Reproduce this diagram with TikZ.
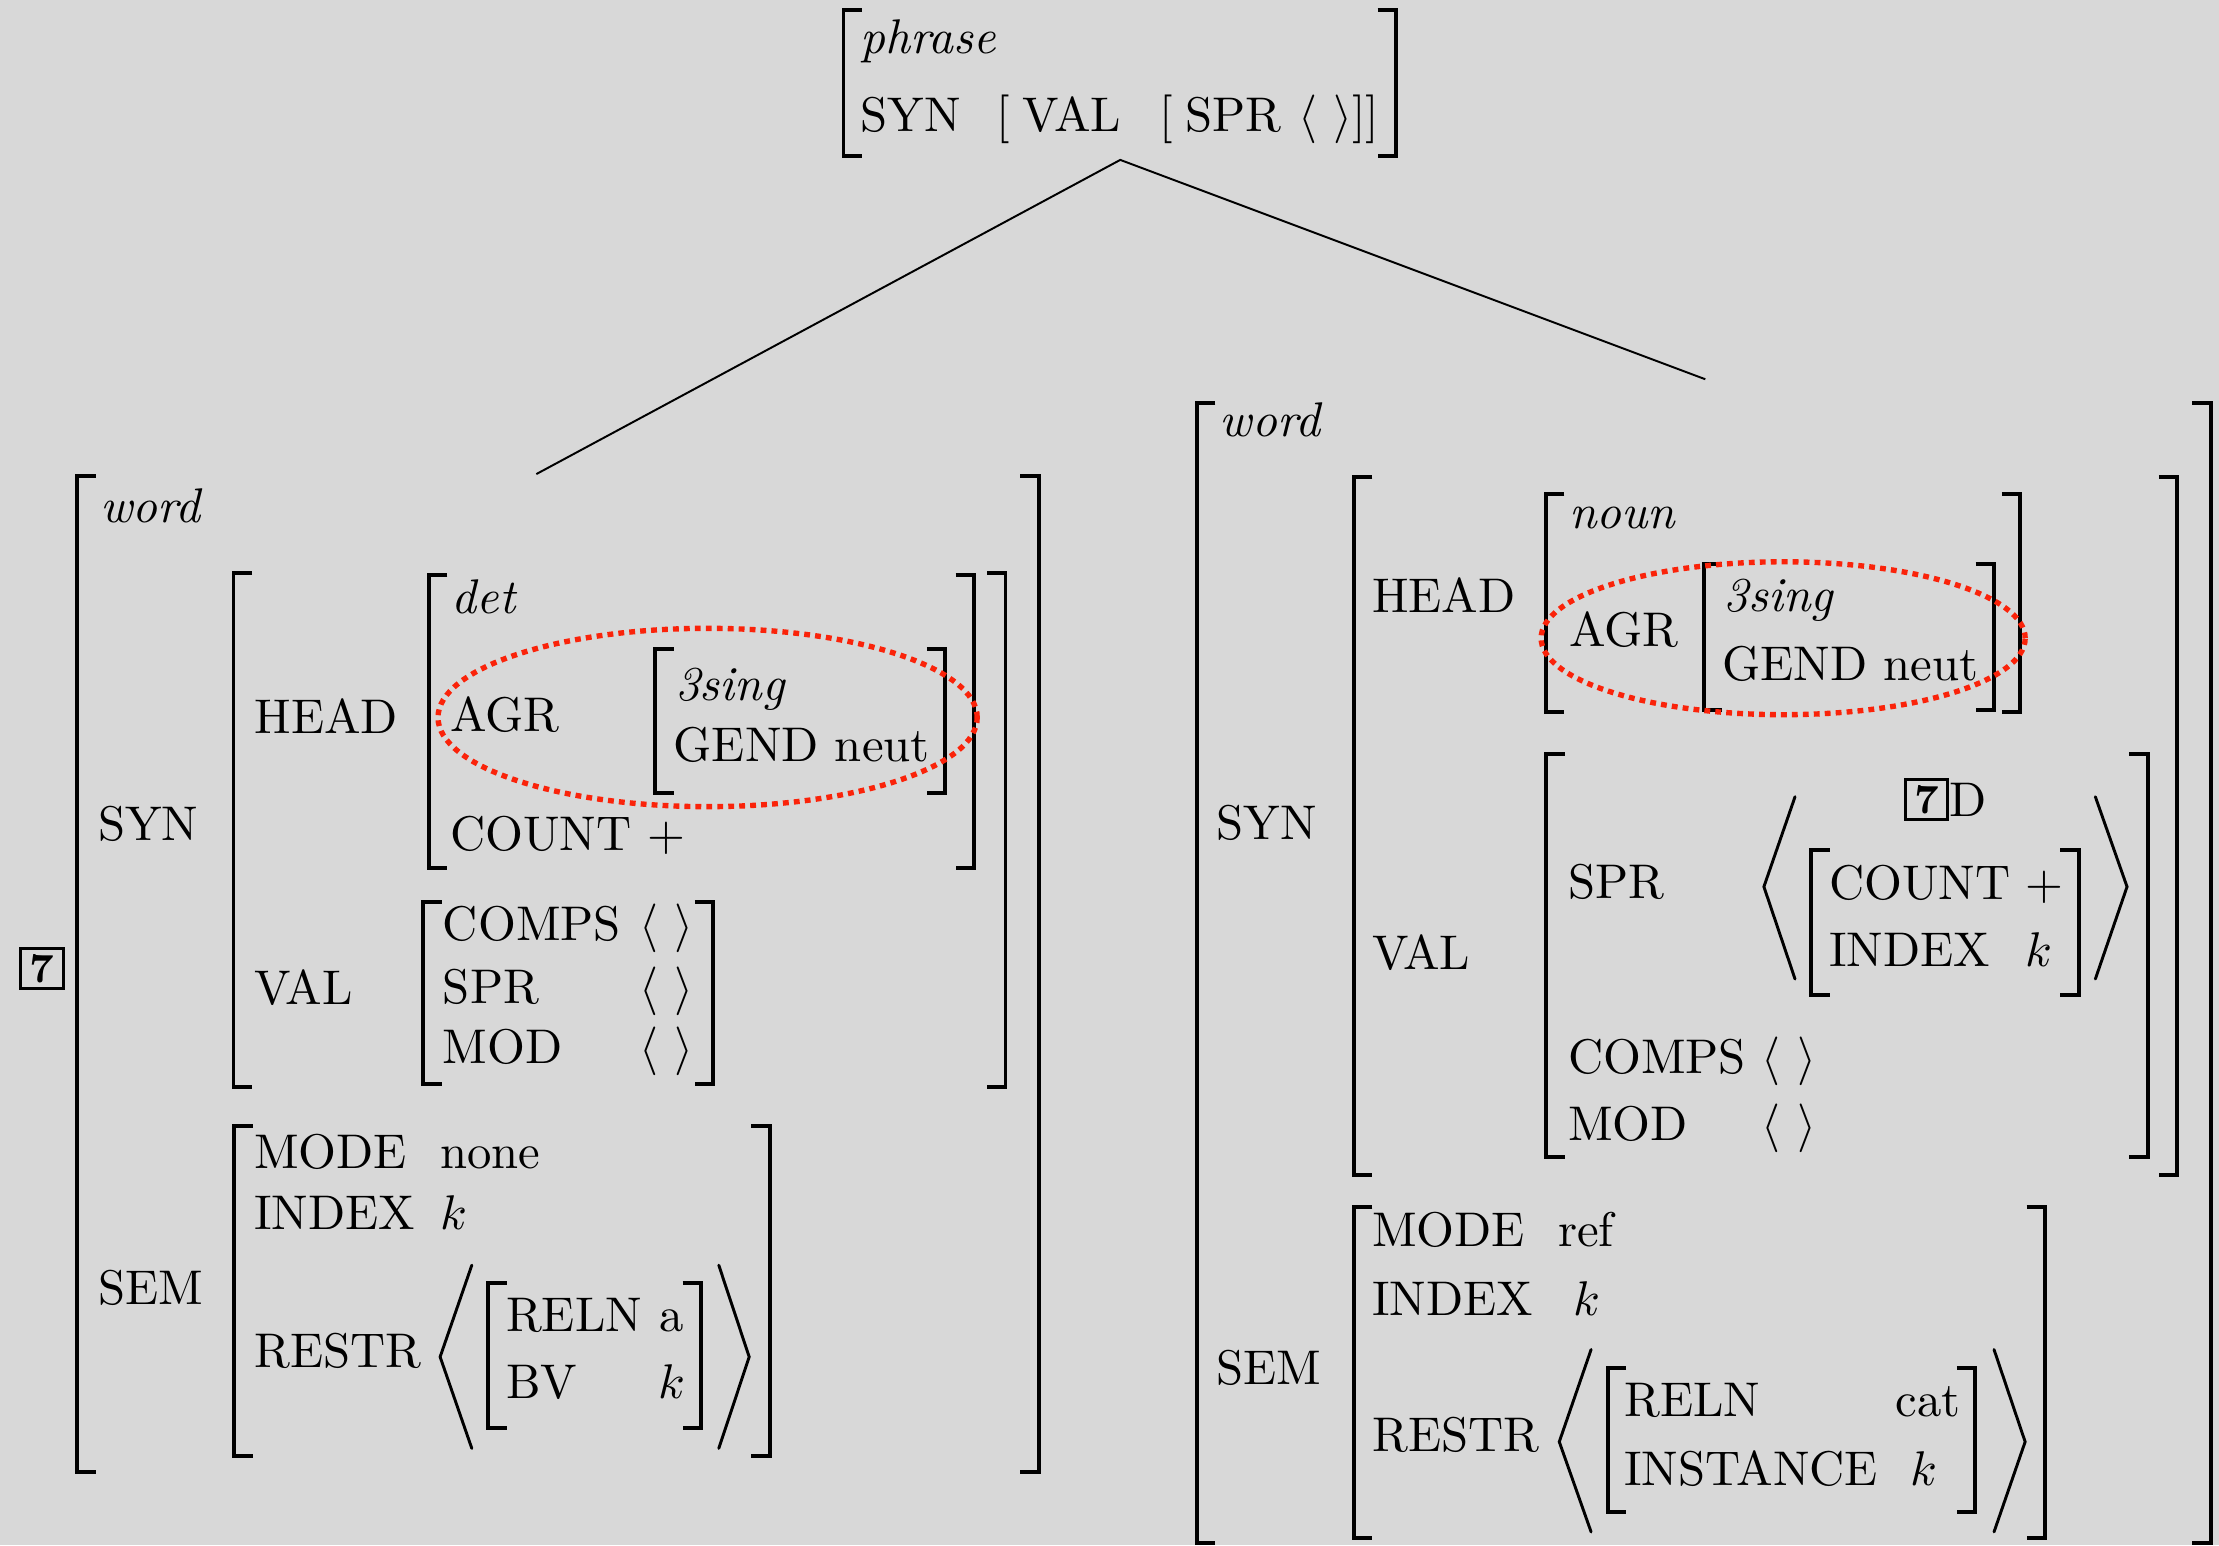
\documentclass[tikz,border=0pt]{standalone}
\usepackage{tikz}
\definecolor{bgc}{RGB}{216,216,216}
\definecolor{redc}{RGB}{250,35,10}
\newcommand\avmL[3]{\draw[brk] ([xshift=3.8pt]#1,#2) -- (#1,#2) -- (#1,#3) -- ([xshift=3.8pt]#1,#3);}
\newcommand\avmR[3]{\draw[brk] ([xshift=-3.8pt]#1,#2) -- (#1,#2) -- (#1,#3) -- ([xshift=-3.8pt]#1,#3);}
\newcommand\emptylist{$\langle\ \rangle$}
\tikzset{
  t/.style={anchor=base west, inner sep=0pt, outer sep=0pt},
  brk/.style={line width=0.8pt, line cap=butt, line join=miter},
  ang/.style={line width=0.6pt, line cap=round, line join=miter},
  tagbox/.style={draw, line width=0.6pt, inner sep=0pt, minimum width=8.7pt, minimum height=8.1pt, font=\fontsize{8.5}{10}\selectfont\bfseries},
  circ/.style={draw=redc, line width=1.1pt, dash pattern=on 1.2pt off 1.05pt},
  tree/.style={line width=0.4pt}
}
\begin{document}
\begin{tikzpicture}[x=0.2906pt, y=-0.2906pt]
\fill[bgc] (0,0) rectangle (1568,1092);
\useasboundingbox (0,0) rectangle (1568,1092);

% ---------- top phrase ----------
\avmL{596}{7}{110}
\avmR{986.6}{7}{110}
\node[t] (ph) at (608,37.7) {\textit{phrase}};
\node[t] (psyn) at (608,93) {SYN};
\node[t] (pval) at (704,93) {[\hspace{2.7pt}VAL};
\node[t] (pspr) at (819,93) {[\hspace{2.7pt}SPR \emptylist]]};

% ---------- tree ----------
\coordinate (apex) at (791.6,113);
\coordinate (lwTop) at (379,335);
\coordinate (rwTop) at (1205,268);
\draw[tree] (lwTop) -- (apex) -- (rwTop);

% ---------- left word ----------
\node[tagbox] (ltag) at (29.7,684.3) {7};
\avmL{54.7}{336.5}{1040}
\avmR{734}{336.5}{1040}
\node[t] (lword) at (70.7,369) {\textit{word}};
\node[t] (lsyn) at (69.5,593.7) {SYN};
\node[t] (lsem) at (69.5,922) {SEM};
% SYN value
\avmL{165}{404.6}{768}
\avmR{710.5}{404.6}{768}
\node[t] (lhead) at (180,518) {HEAD};
\avmL{303}{406.4}{613.5}
\avmR{688.4}{406.4}{613.5}
\node[t] (ldet) at (319.3,433.4) {\textit{det}};
\node[t] (lagr) at (318,517) {AGR};
\avmL{463}{458.8}{560.6}
\avmR{668}{458.8}{560.6}
\node[t] (lsing) at (477,494.7) {\textit{3sing}};
\node[t] (lgend) at (476,538.3) {GEND neut};
\node[t] (lcount) at (318,600.7) {COUNT $+$};
\draw[circ] (500,507) ellipse [x radius=55.36pt, y radius=18.31pt];
\node[t] (lval) at (180,710) {VAL};
\avmL{299}{637.6}{766}
\avmR{504}{637.6}{766}
\node[t] (lcomps) at (313,664.5) {COMPS};
\node[t] (lcompsv) at (452,664.5) {\emptylist};
\node[t] (lspr) at (313,709) {SPR};
\node[t] (lsprv) at (452,709) {\emptylist};
\node[t] (lmod) at (313,751.5) {MOD};
\node[t] (lmodv) at (452,751.5) {\emptylist};
% SEM value
\avmL{165.5}{795.8}{1029}
\avmR{544}{795.8}{1029}
\node[t] (lmode) at (179.6,825.6) {MODE};
\node[t] (lmodev) at (311,825.6) {none};
\node[t] (lindex) at (179.6,869) {INDEX};
\node[t] (lindexv) at (311,869) {$k$};
\node[t] (lrestr) at (179.6,966) {RESTR};
\draw[ang] (333.4,894) -- (311,958.8) -- (333.4,1023.5);
\draw[ang] (507.9,894) -- (529.4,958.8) -- (507.9,1023.5);
\avmL{345}{906.8}{1009}
\avmR{495.5}{906.8}{1009}
\node[t] (lreln) at (357.6,941) {RELN};
\node[t] (lrelnv) at (466,941) {a};
\node[t] (lbv) at (357.6,988) {BV};
\node[t] (lbvv) at (465,988) {$k$};

% ---------- right word ----------
\avmL{845.7}{284.6}{1090.6}
\avmR{1562}{284.6}{1090.6}
\node[t] (rword) at (862,308.6) {\textit{word}};
\node[t] (rsyn) at (859.6,593) {SYN};
\node[t] (rsem) at (859.6,978) {SEM};
% SYN value
\avmL{956.6}{336.9}{830.4}
\avmR{1538.6}{336.9}{830.4}
\node[t] (rhead) at (969.6,433) {HEAD};
\avmL{1092.4}{349}{503}
\avmR{1427.6}{349}{503}
\node[t] (rnoun) at (1109,373.3) {\textit{noun}};
\node[t] (ragr) at (1109,457) {AGR};
\avmL{1204}{398.6}{501.8}
\avmR{1409}{398.6}{501.8}
\node[t] (rsing) at (1218,432.3) {\textit{3sing}};
\node[t] (rgend) at (1217,480.6) {GEND neut};
\draw[circ] (1260,451) ellipse [x radius=49.7pt, y radius=15.7pt];
\node[t] (rval) at (969.6,685) {VAL};
\avmL{1092.5}{532.9}{817.4}
\avmR{1517.6}{532.9}{817.4}
\node[t] (rspr) at (1108,634.7) {SPR};
\draw[ang] (1268.4,563) -- (1246.4,626.6) -- (1268.4,691.8);
\draw[ang] (1480.6,563) -- (1503,626.6) -- (1480.6,691.8);
\node[tagbox] (rtag) at (1361.4,564.9) {7};
\node[t] (rD) at (1377.5,576.7) {D};
\avmL{1279.8}{600.7}{703.2}
\avmR{1469}{600.7}{703.2}
\node[t] (rcount) at (1292.6,635.6) {COUNT};
\node[t] (rcountv) at (1431,635.6) {$+$};
\node[t] (rindex) at (1292.6,683.2) {INDEX};
\node[t] (rindexv) at (1431,683.2) {$k$};
\node[t] (rcomps) at (1108,758.5) {COMPS};
\node[t] (rcompsv) at (1245,758.5) {\emptylist};
\node[t] (rmod) at (1108,805.7) {MOD};
\node[t] (rmodv) at (1245,805.7) {\emptylist};
% SEM value
\avmL{956.6}{853.2}{1087}
\avmR{1445.1}{853.2}{1087}
\node[t] (rmode) at (969.6,881) {MODE};
\node[t] (rmodev) at (1101,881) {ref};
\node[t] (rindexs) at (969.6,929.3) {INDEX};
\node[t] (rindexsv) at (1112,929.3) {$k$};
\node[t] (rrestr) at (969.6,1026) {RESTR};
\draw[ang] (1124.3,953.6) -- (1101.8,1018.8) -- (1124.3,1082.5);
\draw[ang] (1409,953.6) -- (1431,1018.8) -- (1409,1082.5);
\avmL{1136}{966.8}{1068.5}
\avmR{1395.8}{966.8}{1068.5}
\node[t] (rreln) at (1147.7,1001.2) {RELN};
\node[t] (rrelnv) at (1339.7,1001.2) {cat};
\node[t] (rinst) at (1147.7,1049.5) {INSTANCE};
\node[t] (rinstv) at (1350,1049.5) {$k$};
\end{tikzpicture}
\end{document}
